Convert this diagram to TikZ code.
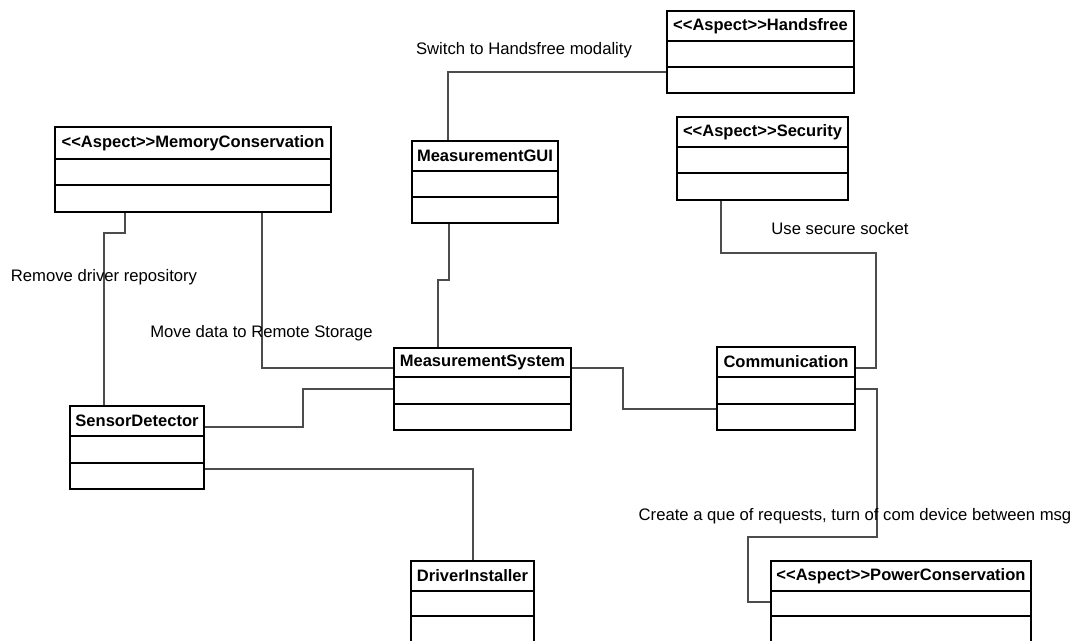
\documentclass[tikz,border=0pt]{standalone}
\usepackage{fontspec}
\setmainfont{Liberation Sans}[Ligatures=TeXOff]
\usetikzlibrary{fit}

\tikzset{
  classbox/.style={draw=black, line width=1.5pt, inner sep=0pt, fill=white},
  divider/.style={draw=black, line width=1.5pt},
  classtitle/.style={inner sep=0pt, font=\bfseries\fontsize{12.4}{14}\selectfont},
  conn/.style={draw=black!70, line width=0.85pt},
  lbl/.style={inner sep=0pt, font=\fontsize{12.5}{14}\selectfont}
}

% #1 id, #2 x1, #3 y1, #4 x2, #5 y2, #6 first divider, #7 second divider, #8 title
\newcommand{\umlclass}[8]{%
  \node[classbox, fit={(#2,#3) (#4,#5)}] (#1) {};
  \draw[divider] (#2,#6) -- (#4,#6);
  \draw[divider] (#2,#7) -- (#4,#7);
  \node[classtitle] (#1-title) at ({(#2+#4)/2},{(#3+#6)/2}) {#8};
}

\begin{document}
\begin{tikzpicture}[x=0.75pt, y=-0.75pt]
  \useasboundingbox[fill=white] (0,0) rectangle (1072,641);

  % connector bend points
  \coordinate (c1) at (448,72);
  \coordinate (m1) at (125,233);
  \coordinate (m2) at (104,233);
  \coordinate (m3) at (262,368);
  \coordinate (g1) at (449,280);
  \coordinate (g2) at (438,280);
  \coordinate (s1) at (623,368);
  \coordinate (s2) at (623,409);
  \coordinate (d1) at (303,427);
  \coordinate (d2) at (303,389);
  \coordinate (d3) at (473,469);
  \coordinate (e1) at (721,253);
  \coordinate (e2) at (876,253);
  \coordinate (e3) at (876,368);
  \coordinate (p1) at (877,389);
  \coordinate (p2) at (877,537);
  \coordinate (p3) at (748,537);
  \coordinate (p4) at (748,602);

  % classes
  \umlclass{hf}{667}{11}{854}{93}{41}{67}{<<Aspect>>Handsfree}
  \umlclass{mem}{55}{127}{331}{212}{159}{185}{<<Aspect>>MemoryConservation}
  \umlclass{gui}{412}{141}{558}{223}{171}{197}{MeasurementGUI}
  \umlclass{sec}{677}{117}{848}{200}{147}{173}{<<Aspect>>Security}
  \umlclass{ms}{394}{348}{571}{430}{377}{404}{MeasurementSystem}
  \umlclass{com}{717}{347}{855}{430}{377}{404}{Communication}
  \umlclass{sd}{70}{406}{204}{489}{436}{463}{SensorDetector}
  \umlclass{di}{411}{561}{534}{645}{591}{616}{DriverInstaller}
  \umlclass{pc}{771}{561}{1031}{645}{591}{616}{<<Aspect>>PowerConservation}

  % connectors
  \draw[conn] (gui.north -| c1) |- (hf.west |- c1);
  \draw[conn] (mem.south -| m1) -- (m1) -- (m2) -- (sd.north -| m2);
  \draw[conn] (mem.south -| m3) |- (ms.west |- m3);
  \draw[conn] (gui.south -| g1) -- (g1) -- (g2) -- (ms.north -| g2);
  \draw[conn] (ms.east |- s1) -- (s1) -- (s2) -- (com.west |- s2);
  \draw[conn] (sd.east |- d1) -- (d1) -- (d2) -- (ms.west |- d2);
  \draw[conn] (sd.east |- d3) -- (d3) -- (di.north -| d3);
  \draw[conn] (sec.south -| e1) -- (e1) -- (e2) -- (e3) -- (com.east |- e3);
  \draw[conn] (com.east |- p1) -- (p1) -- (p2) -- (p3) -- (p4) -- (pc.west |- p4);

  % connector labels
  \node[lbl] (l1) at (524,50) {Switch to Handsfree modality};
  \node[lbl] (l2) at (104,277) {Remove driver repository};
  \node[lbl] (l3) at (261.5,333) {Move data to Remote Storage};
  \node[lbl] (l4) at (840,229) {Use secure socket};
  \node[lbl] (l5) at (855,516) {Create a que of requests, turn of com device between msg};
\end{tikzpicture}
\end{document}
